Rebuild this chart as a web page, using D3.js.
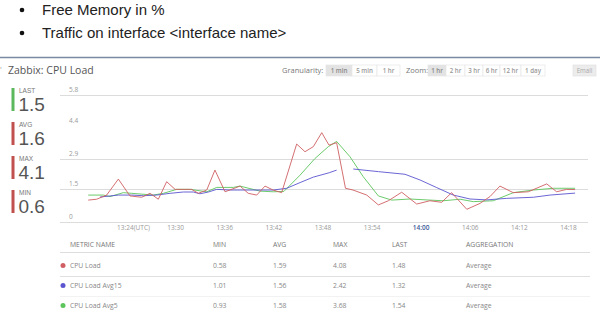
<!DOCTYPE html>
<html><head><meta charset="utf-8">
<script src="https://cdn.jsdelivr.net/npm/d3@7"></script>
<style>
html,body{margin:0;padding:0;background:#fff;}
svg{display:block;}
</style></head>
<body>
<svg id="c" width="600" height="313"></svg>
<script>
// ---------- data ----------
const bulletItems = ["Free Memory in %", "Traffic on interface <interface name>"];
const chartTitle = "Zabbix: CPU Load";
const granularityOptions = ["1 min", "5 min", "1 hr"];
const zoomOptions = ["1 hr", "2 hr", "3 hr", "6 hr", "12 hr", "1 day"];

const statLabels = ["LAST", "AVG", "MAX", "MIN"];
const statValues = ["1.5", "1.6", "4.1", "0.6"];
const statColors = ["#5cb85c", "#c0504d", "#c0504d", "#c0504d"];

const yTickValues = [0, 1.5, 2.9, 4.4, 5.8];
const yTickLabels = ["0", "1.5", "2.9", "4.4", "5.8"];
const yGridValues = [0, 1.5, 2.9, 5.8];

const xTickTimes = ["13:24", "13:30", "13:36", "13:42", "13:48", "13:54", "14:00", "14:06", "14:12", "14:18"];
const xTickLabels = ["13:24(UTC)", "13:30", "13:36", "13:42", "13:48", "13:54", "14:00", "14:06", "14:12", "14:18"];

const seriesNames = ["CPU Load", "CPU Load Avg15", "CPU Load Avg5"];
const seriesColors = ["#cf5f63", "#5b55cf", "#5cc55c"];
const tableMin = ["0.58", "1.01", "0.93"];
const tableAvg = ["1.59", "1.56", "1.58"];
const tableMax = ["4.08", "2.42", "3.68"];
const tableLast = ["1.48", "1.32", "1.54"];
const tableAgg = ["Average", "Average", "Average"];

const loadTimes = ["13:19:23","13:20:25","13:21:38","13:23:04","13:24:29","13:25:55","13:26:56","13:27:57","13:28:58","13:30:00",
  "13:32:02","13:32:50","13:33:52","13:34:52","13:36:06","13:37:56","13:38:56","13:39:58","13:40:59","13:41:58",
  "13:43:01","13:44:51","13:45:52","13:46:53","13:47:55","13:48:48","13:49:44","13:50:49","13:51:44","13:53:25",
  "13:54:50","13:56:03","13:57:41","13:59:31","14:01:08","14:02:34","14:03:47","14:05:38","14:07:15","14:08:28",
  "14:09:41","14:11:19","14:13:09","14:15:24","14:16:37","14:17:50","14:18:52"];
const loadValues = [1.00,1.04,1.23,1.96,1.19,1.13,1.31,1.04,1.84,1.49,
  1.49,1.31,1.46,2.37,1.38,1.64,1.31,1.23,1.64,1.46,
  1.34,3.56,3.21,3.44,4.08,3.51,3.62,1.54,1.46,1.23,
  0.78,0.97,1.36,0.82,0.97,0.90,1.34,0.58,0.85,1.16,
  1.64,1.34,1.38,1.74,1.38,1.49,1.48];

const avg15Times = ["13:20:49","13:23:04","13:24:42","13:26:07","13:27:45","13:29:23","13:31:00","13:32:13","13:33:02","13:34:04",
  "13:35:05","13:36:43","13:40:22","13:42:00","13:43:38","13:45:16","13:46:53","13:48:50","13:49:44","13:50:45",
  "13:51:46","13:54:50","13:58:05","13:59:55","14:01:58","14:03:59","14:06:02","14:08:04","14:10:31","14:13:46",
  "14:15:48","14:18:52"];
const avg15Values = [1.14,1.23,1.23,1.20,1.23,1.31,1.37,1.37,1.29,1.37,
  1.49,1.46,1.46,1.46,1.54,1.80,2.05,2.25,2.37,null,
  2.42,2.30,2.18,1.92,1.57,1.23,1.05,1.01,1.08,1.13,
  1.23,1.32];

const avg5Times = ["13:19:23","13:21:14","13:22:03","13:23:40","13:24:42","13:27:20","13:28:34","13:30:11","13:31:49","13:33:52",
  "13:35:05","13:37:07","13:37:56","13:40:22","13:42:00","13:43:18","13:45:16","13:47:05","13:48:43","13:49:44",
  "13:51:22","13:52:59","13:54:50","13:56:28","13:58:42","14:01:08","14:02:46","14:04:49","14:06:26","14:08:52",
  "14:11:19","14:13:46","14:16:13","14:18:52"];
const avg5Values = [1.23,1.23,1.16,1.34,1.31,1.23,1.31,1.49,1.49,1.38,
  1.58,1.58,1.64,1.41,1.38,1.40,2.14,2.90,3.44,3.68,
  2.98,2.07,1.19,1.00,1.05,1.00,0.97,1.04,0.93,0.97,
  1.34,1.46,1.54,1.54];

// ---------- drawing ----------
const svg = d3.select("#c");
const font = "'Open Sans', 'Noto Sans', sans-serif";

// bullets
bulletItems.forEach((t, i) => {
  const y = 15 + i * 23;
  svg.append("circle").attr("cx", 22).attr("cy", y - 5).attr("r", 2.3).attr("fill", "#111");
  svg.append("text").attr("x", 42).attr("y", y).attr("font-family", "'Liberation Sans', Arial, sans-serif")
    .attr("font-size", 15).attr("fill", "#222").text(t);
});
svg.append("line").attr("x1", 0).attr("x2", 600).attr("y1", 57.5).attr("y2", 57.5)
  .attr("stroke", "#7a8aa3").attr("stroke-width", 1.5);

// title
svg.append("text").attr("x", 8).attr("y", 74).attr("font-family", font).attr("font-size", 10.5)
  .attr("fill", "#555").text(chartTitle);
svg.append("text").attr("x", 0).attr("y", 72).attr("font-family", font).attr("font-size", 8)
  .attr("fill", "#999").text("'");

// controls
const ctrlFont = 6.2;
svg.append("text").attr("x", 282).attr("y", 73).attr("font-family", font).attr("font-size", 7.5)
  .attr("fill", "#777").text("Granularity:");
const granX = [326, 352, 377, 400];
granularityOptions.forEach((o, i) => {
  svg.append("rect").attr("x", granX[i]).attr("y", 65).attr("width", granX[i+1]-granX[i]).attr("height", 11)
    .attr("fill", i === 0 ? "#e3e3e3" : "#fff").attr("stroke", "#e6e6e6").attr("stroke-width", 0.7);
  svg.append("text").attr("x", (granX[i]+granX[i+1])/2).attr("y", 72.6).attr("text-anchor", "middle")
    .attr("font-family", font).attr("font-size", ctrlFont).attr("font-weight", 600)
    .attr("fill", i === 0 ? "#888" : "#999").text(o);
});
svg.append("text").attr("x", 406).attr("y", 73).attr("font-family", font).attr("font-size", 7.5)
  .attr("fill", "#777").text("Zoom:");
const zoomX = [428, 446, 465, 483, 500, 521, 545];
zoomOptions.forEach((o, i) => {
  svg.append("rect").attr("x", zoomX[i]).attr("y", 65).attr("width", zoomX[i+1]-zoomX[i]).attr("height", 11)
    .attr("fill", i === 0 ? "#e3e3e3" : "#fff").attr("stroke", "#e6e6e6").attr("stroke-width", 0.7);
  svg.append("text").attr("x", (zoomX[i]+zoomX[i+1])/2).attr("y", 72.6).attr("text-anchor", "middle")
    .attr("font-family", font).attr("font-size", ctrlFont).attr("font-weight", 600)
    .attr("fill", i === 0 ? "#888" : "#999").text(o);
});
svg.append("rect").attr("x", 573).attr("y", 65).attr("width", 23).attr("height", 11).attr("fill", "#ececec")
  .attr("stroke", "#e2e2e2").attr("stroke-width", 0.7);
svg.append("text").attr("x", 584.5).attr("y", 72.6).attr("text-anchor", "middle").attr("font-family", font)
  .attr("font-size", ctrlFont).attr("fill", "#aaa").text("Email");

// stats panel
statLabels.forEach((l, i) => {
  const y0 = 88 + i * 34;
  svg.append("rect").attr("x", 11.5).attr("y", y0).attr("width", 3).attr("height", 23).attr("fill", statColors[i]);
  svg.append("text").attr("x", 19).attr("y", y0 + 4.8).attr("font-family", "'Liberation Sans', Arial, sans-serif")
    .attr("font-size", 6.5).attr("fill", "#777").text(l);
  svg.append("text").attr("x", 18.5).attr("y", y0 + 23).attr("font-family", "'Liberation Sans', Arial, sans-serif")
    .attr("font-size", 19).attr("fill", "#555").text(statValues[i]);
});

// scales
const parseT = d3.timeParse("%H:%M:%S");
const parseHM = d3.timeParse("%H:%M");
const x = d3.scaleTime().domain([parseHM("13:24"), parseHM("14:18")]).range([126, 568]);
const y = d3.scaleLinear().domain([0, 5.8]).range([222, 95]);

// gridlines
svg.append("g").selectAll("line").data(yGridValues).join("line")
  .attr("x1", 60).attr("x2", 588).attr("y1", d => Math.round(y(d)) + 0.5).attr("y2", d => Math.round(y(d)) + 0.5)
  .attr("stroke", "#dcdcdc").attr("stroke-width", 1);

// y labels
svg.append("g").selectAll("text").data(yTickValues).join("text")
  .attr("x", 69).attr("y", d => y(d) - 3).attr("font-family", font).attr("font-size", 6.5)
  .attr("fill", "#999").text((d, i) => yTickLabels[i]);

// x axis
const xAxis = d3.axisBottom(x).tickValues(xTickTimes.map(parseHM))
  .tickFormat((d, i) => xTickLabels[i]).tickSize(0).tickPadding(0);
const gx = svg.append("g").attr("transform", "translate(0,225)").call(xAxis);
gx.select(".domain").remove();
gx.selectAll("text").attr("font-family", font).attr("font-size", 6.5)
  .attr("dy", "0.71em")
  .attr("fill", (d, i) => i === 6 ? "#3c5a9a" : "#999")
  .attr("font-weight", (d, i) => i === 6 ? 600 : 400);
gx.selectAll("text").filter((d, i) => i === 0).attr("dx", 7);

// lines
const line = d3.line().defined(d => d[1] !== null).x(d => x(d[0])).y(d => y(d[1]));
const seriesData = [
  d3.zip(loadTimes.map(parseT), loadValues),
  d3.zip(avg15Times.map(parseT), avg15Values),
  d3.zip(avg5Times.map(parseT), avg5Values)
];
[2, 1, 0].forEach(i => {
  svg.append("path").datum(seriesData[i]).attr("d", line).attr("fill", "none")
    .attr("stroke", seriesColors[i]).attr("stroke-width", 1).attr("stroke-opacity", 0.9);
});

// table
const cols = [70, 213, 273, 333, 392, 466];
const headers = ["METRIC NAME", "MIN", "AVG", "MAX", "LAST", "AGGREGATION"];
headers.forEach((h, i) => {
  svg.append("text").attr("x", cols[i]).attr("y", 247).attr("font-family", font).attr("font-size", 6.8)
    .attr("fill", "#777").text(h);
});
svg.append("line").attr("x1", 60).attr("x2", 590).attr("y1", 252.5).attr("y2", 252.5).attr("stroke", "#ddd");
seriesNames.forEach((n, i) => {
  const ry = 268 + i * 20;
  svg.append("circle").attr("cx", 63).attr("cy", ry - 2.5).attr("r", 2.5).attr("fill", seriesColors[i]);
  const row = [n, tableMin[i], tableAvg[i], tableMax[i], tableLast[i], tableAgg[i]];
  row.forEach((v, j) => {
    svg.append("text").attr("x", cols[j]).attr("y", ry).attr("font-family", font).attr("font-size", 6.8)
      .attr("fill", "#888").text(v);
  });
  if (i < 2) {
    svg.append("line").attr("x1", 60).attr("x2", 590).attr("y1", ry + 8.5).attr("y2", ry + 8.5)
      .attr("stroke", i === 0 ? "#e0e0e0" : "#f2f2f2");
  }
});
</script>
</body></html>
